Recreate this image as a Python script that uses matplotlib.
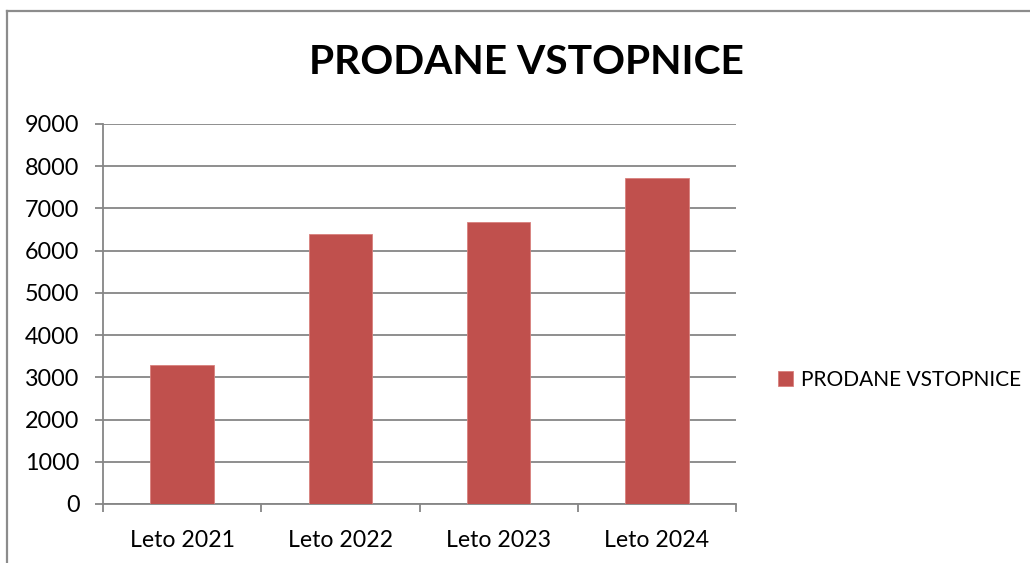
import matplotlib
matplotlib.use('Agg')
import matplotlib.pyplot as plt
from matplotlib.lines import Line2D
import numpy as np

# data
categories = ['Leto 2021', 'Leto 2022', 'Leto 2023', 'Leto 2024']
sold = [3300, 6390, 6680, 7720]
series_name = 'PRODANE VSTOPNICE'
yticks = list(range(0, 9001, 1000))

bar_col = '#C0504D'
grid_col = '#868686'

plt.rcParams['font.family'] = ['Lato', 'DejaVu Sans']

W, H = 1030, 563
fig = plt.figure(figsize=(W / 100, H / 100), dpi=100)
fig.patch.set_facecolor('white')

# plot area in pixels: x 103..736, y 124..504
ax = fig.add_axes([103 / W, (H - 504) / H, 633 / W, 380 / H])

x = np.arange(len(categories))
ax.bar(x, sold, width=0.4, color=bar_col, edgecolor='#d8807d', linewidth=0.6,
       label=series_name, zorder=3)

ax.set_xlim(-0.5, len(categories) - 0.5)
ax.set_ylim(0, 9000)
ax.set_yticks(yticks)
ax.set_yticklabels([str(v) for v in yticks])
ax.yaxis.grid(True, color=grid_col, linewidth=1.3, zorder=0)
ax.set_axisbelow(True)

# category labels in the middle, ticks on the boundaries
ax.set_xticks(x)
ax.set_xticklabels(categories)
ax.set_xticks(np.arange(-0.5, len(categories)), minor=True)
ax.tick_params(axis='x', which='major', length=0, pad=19, labelsize=16.7)
ax.tick_params(axis='x', which='minor', length=6, width=1.3, color=grid_col)
ax.tick_params(axis='y', length=6, width=1.3, color=grid_col, pad=11, labelsize=16.8)

for s in ['top', 'right']:
    ax.spines[s].set_visible(False)
for s in ['left', 'bottom']:
    ax.spines[s].set_color(grid_col)
    ax.spines[s].set_linewidth(1.3)

fig.text(526 / W, 1 - 62 / H, series_name, ha='center', va='center',
         fontsize=29.3, fontweight='bold')

leg = fig.legend(loc='center left', bbox_to_anchor=(778 / W, 1 - 380 / H),
                 frameon=False, fontsize=15, handlelength=0.7, handleheight=0.7,
                 handletextpad=0.4, borderaxespad=0, borderpad=0)

# chart border (only top and left show in the crop)
fig.add_artist(Line2D([7 / W, 7 / W], [0, 1 - 11 / H], transform=fig.transFigure,
                      color='#8c8c8c', linewidth=1.6))
fig.add_artist(Line2D([7 / W, 1], [1 - 11 / H, 1 - 11 / H], transform=fig.transFigure,
                      color='#8c8c8c', linewidth=1.6))

fig.savefig('out.png', dpi=100)
